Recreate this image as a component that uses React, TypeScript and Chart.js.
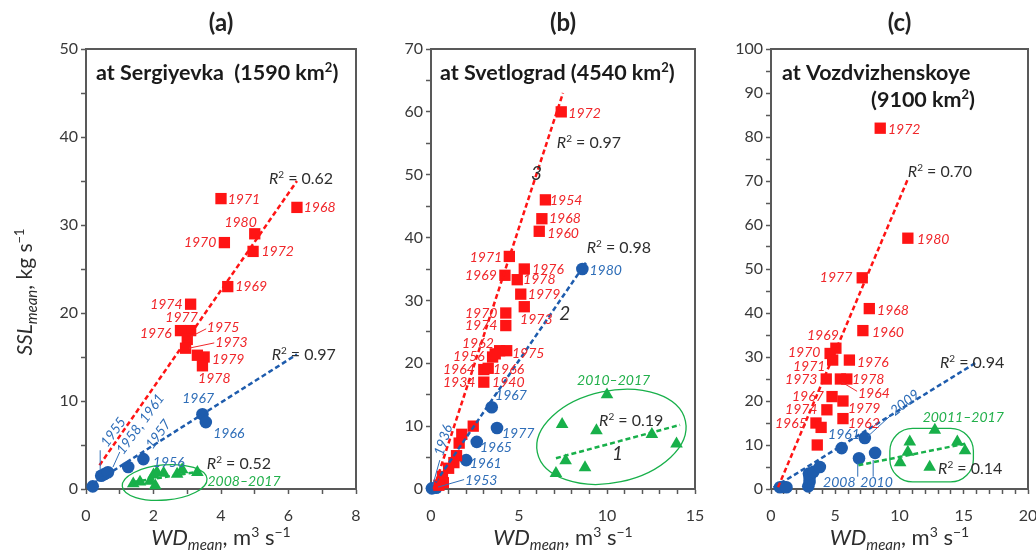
import React, { useEffect, useRef } from 'react';
import Chart from 'chart.js/auto';

const FONT = 'Lato, "Open Sans", sans-serif';
const RED = '#FF1414';
const RED_TXT = '#F0262A';
const BLUE = '#1E5CAD';
const BLUE_TXT = '#2F6EB8';
const GREEN = '#18B04A';
const GREEN_TXT = '#22B04B';
const INK = '#2E2E2E';
const AXIS = '#595959';

// ---------------- Panel (a): at Sergiyevka ----------------
const aRedX = [4.0, 6.25, 5.0, 4.1, 4.95, 4.2, 3.1, 3.1, 2.8, 3.0, 2.95, 3.5, 3.45, 3.3];
const aRedY = [33, 32, 29, 28, 27, 23, 21, 18, 18, 17, 16, 15, 14, 15.2];
const aRedLabels = ['1971', '1968', '1980', '1970', '1972', '1969', '1974', '1977', '1976', '1975', '1973', '1979', '1978'];
const aRedLabelAt: [number, number][] = [[4.2, 33], [6.45, 32], [4.1, 30.4], [2.9, 28.1], [5.2, 27], [4.42, 23.1], [1.9, 21], [2.35, 19.5], [1.6, 17.7], [3.58, 18.4], [3.83, 16.7], [3.73, 14.8], [3.32, 12.6]];
const aBlueX = [0.2, 0.45, 0.55, 0.65, 1.25, 1.7, 3.45, 3.55];
const aBlueY = [0.3, 1.5, 1.7, 1.9, 2.5, 3.4, 8.5, 7.6];
const aBlueLabels = ['1967', '1966', '1956'];
const aBlueLabelAt: [number, number][] = [[2.85, 10.3], [3.77, 6.4], [1.98, 3.1]];
const aBlueRotLabels = ['1955', '1958, 1961', '1957'];
const aBlueRotAt: [number, number][] = [[0.8, 6.5], [1.6, 7.4], [2.13, 6.25]];
const aGreenX = [1.4, 1.6, 1.9, 2.0, 2.1, 2.3, 2.7, 2.85, 3.3, 2.05];
const aGreenY = [0.6, 0.8, 0.9, 1.6, 1.9, 1.8, 1.7, 2.2, 1.9, 0.4];
const aRedTrendX = [0.4, 6.25];
const aRedTrendY = [2.7, 35];
const aBlueTrendX = [0.2, 6.25];
const aBlueTrendY = [0.6, 15.3];
const aGreenTrendX = [1.4, 3.4];
const aGreenTrendY = [0.8, 2.0];

// ---------------- Panel (b): at Svetlograd ----------------
const bRedX = [7.4, 6.5, 6.3, 6.15, 4.45, 4.2, 5.3, 4.9, 5.1, 5.3, 4.25, 4.25, 3.9, 4.3, 3.5, 3.65, 3.0, 3.0, 3.25, 2.4, 1.75, 1.6, 1.45, 1.3, 1.0, 0.65, 0.7, 0.45];
const bRedY = [60, 46, 43, 41, 37, 34, 35, 33.3, 31, 29, 28, 26, 22, 22, 21, 21.5, 19, 17, 19.2, 10, 8.7, 7.3, 5.3, 4.2, 3.3, 2.0, 1.0, 0.6];
const bRedLabels = ['1972', '1954', '1968', '1960', '1971', '1969', '1976', '1978', '1979', '1973', '1970', '1974', '1962', '1975', '1956', '1966', '1964', '1934', '1940'];
const bRedLabelAt: [number, number][] = [[7.8, 59.8], [6.76, 46], [6.7, 43.1], [6.6, 40.7], [2.2, 36.9], [1.93, 34], [5.74, 35], [5.23, 33.4], [5.5, 31], [5.06, 27], [1.93, 28], [1.93, 26.1], [1.76, 23.2], [4.6, 21.6], [1.25, 21.2], [3.52, 19.1], [0.68, 19.1], [0.68, 17.0], [3.47, 17.0]];
const bBlueX = [0.05, 0.3, 2.0, 2.6, 3.45, 3.75, 8.6];
const bBlueY = [0.1, 0.2, 4.6, 7.5, 13, 9.7, 35];
const bBlueLabels = ['1953', '1961', '1965', '1967', '1977', '1980'];
const bBlueLabelAt: [number, number][] = [[1.93, 1.4], [2.2, 4.1], [2.78, 6.7], [3.64, 15], [4.03, 8.9], [9.0, 34.9]];
const bBlueRotLabels = ['1936'];
const bBlueRotAt: [number, number][] = [[0.68, 7.8]];
const bGreenX = [10.0, 7.45, 9.4, 12.55, 13.95, 7.65, 8.75, 7.1];
const bGreenY = [15.0, 10.3, 9.3, 8.7, 7.2, 4.5, 3.4, 2.5];
const bRedTrendX = [0.15, 7.5];
const bRedTrendY = [0, 63];
const bBlueTrendX = [0, 8.8];
const bBlueTrendY = [0, 36];
const bGreenTrendX = [7.1, 14.15];
const bGreenTrendY = [4.9, 10.2];

// ---------------- Panel (c): at Vozdvizhenskoye ----------------
const cRedX = [8.5, 10.65, 7.1, 7.65, 7.15, 6.1, 5.05, 4.6, 4.8, 4.3, 5.9, 5.4, 4.75, 5.6, 4.35, 5.6, 3.5, 3.9, 3.6];
const cRedY = [82, 57, 48, 41, 36, 29.3, 32, 30.8, 29.3, 25, 25, 25, 21, 20, 18, 16, 15, 14, 10];
const cRedLabels = ['1972', '1980', '1977', '1968', '1960', '1976', '1969', '1970', '1971', '1973', '1978', '1964', '1967', '1979', '1974', '1962', '1965'];
const cRedLabelAt: [number, number][] = [[9.1, 81.9], [11.36, 56.9], [3.8, 48.1], [8.25, 40.8], [7.86, 35.8], [6.69, 28.8], [2.8, 35.1], [1.32, 31.1], [1.71, 27.9], [1.09, 24.9], [6.3, 24.9], [6.77, 21.8], [1.63, 21.1], [5.99, 18.4], [1.09, 18.1], [5.99, 15.0], [0.31, 15.0]];
const cBlueX = [0.7, 0.95, 1.2, 2.9, 3.0, 3.0, 2.95, 3.3, 3.8, 5.5, 6.85, 7.3, 8.1];
const cBlueY = [0.4, 0.5, 0.4, 0.6, 1.6, 2.5, 3.5, 3.9, 5.0, 9.3, 7.0, 11.6, 8.2];
const cBlueLabels = ['1961', '2008', '2010'];
const cBlueLabelAt: [number, number][] = [[4.44, 12.5], [4.05, 1.6], [6.95, 1.6]];
const cBlueRotLabels = ['2009'];
const cBlueRotAt: [number, number][] = [[10.4, 19.7]];
const cGreenX = [12.75, 10.8, 10.65, 10.05, 14.5, 15.1, 12.35];
const cGreenY = [13.4, 10.7, 8.4, 6.0, 10.7, 8.7, 5.0];
const cRedTrendX = [0.55, 10.66];
const cRedTrendY = [0.4, 70.5];
const cBlueTrendX = [0.2, 16];
const cBlueTrendY = [0.3, 28.8];
const cGreenTrendX = [6.8, 15.3];
const cGreenTrendY = [5.4, 10.4];

// ---------------- drawing helpers ----------------
type Seg = { t: string; i?: boolean; b?: boolean; s?: 'sub' | 'sup' };
type Note = { x: number; y: number; segs: Seg[]; color: string; size: number; align?: 'left' | 'center' | 'right'; rot?: number };
type Leader = { x1: number; y1: number; x2: number; y2: number; color: string };
type Loop = { cx: number; cy: number; rx: number; ry: number; rot: number; round?: boolean };

function segFont(seg: Seg, size: number) {
  const sz = seg.s === 'sub' ? Math.round(size * 0.7) : seg.s === 'sup' ? Math.round(size * 0.62) : size;
  return `${seg.i ? 'italic ' : ''}${seg.b ? 'bold ' : ''}${sz}px ${FONT}`;
}

function drawRich(ctx: CanvasRenderingContext2D, segs: Seg[], x: number, y: number, size: number, color: string, align: 'left' | 'center' | 'right' = 'left', rot = 0) {
  ctx.save();
  ctx.translate(x, y);
  if (rot) ctx.rotate((rot * Math.PI) / 180);
  ctx.fillStyle = color;
  ctx.textBaseline = 'alphabetic';
  ctx.textAlign = 'left';
  const widths = segs.map((s) => {
    ctx.font = segFont(s, size);
    return ctx.measureText(s.t).width;
  });
  const total = widths.reduce((a, b) => a + b, 0);
  let cx = align === 'left' ? 0 : align === 'center' ? -total / 2 : -total;
  const base = size * 0.36;
  segs.forEach((s, k) => {
    ctx.font = segFont(s, size);
    const dy = s.s === 'sub' ? size * 0.24 : s.s === 'sup' ? -size * 0.36 : 0;
    ctx.fillText(s.t, cx, base + dy);
    cx += widths[k];
  });
  ctx.restore();
}

const r2 = (v: string): Seg[] => [{ t: 'R', i: true }, { t: '2', s: 'sup' }, { t: ' = ' + v }];
const yearNotes = (labels: string[], at: [number, number][], color: string): Note[] =>
  labels.map((t, k) => ({ x: at[k][0], y: at[k][1], segs: [{ t, i: true }], color, size: 14 }));
const rotNotes = (labels: string[], at: [number, number][], color: string, rot: number): Note[] =>
  labels.map((t, k) => ({ x: at[k][0], y: at[k][1], segs: [{ t, i: true }], color, size: 14, align: 'center', rot }));

const pts = (xs: number[], ys: number[]) => xs.map((x, k) => ({ x, y: ys[k] }));

type PanelCfg = {
  key: string;
  canvasLeft: number;
  canvasWidth: number;
  plotLeft: number;
  plotRight: number;
  xMax: number;
  xEvery: number;
  yMax: number;
  letter: string;
  header: { segs: Seg[]; dx: number; y: number; align?: 'left' | 'right' }[];
  red: [number[], number[]];
  blue: [number[], number[]];
  green: [number[], number[]];
  redTrend: [number[], number[]];
  blueTrend: [number[], number[]];
  greenTrend: [number[], number[]];
  notes: Note[];
  leaders: Leader[];
  loops: Loop[];
  yTitle?: boolean;
};

const PLOT_TOP = 49;
const PLOT_BOTTOM = 489;
const H = 552;
const Y_AXIS_W = 40;
const X_AXIS_H = 34;

const km = (name: string, area: string): Seg[] => [{ t: `${name}(${area} km`, b: true }, { t: '2', b: true, s: 'sup' }, { t: ')', b: true }];

const panels: PanelCfg[] = [
  {
    key: 'a', canvasLeft: 0, canvasWidth: 372, plotLeft: 86, plotRight: 356, xMax: 8, xEvery: 2, yMax: 50, letter: '(a)',
    header: [{ segs: km('at Sergiyevka  ', '1590'), dx: 10, y: 72 }],
    red: [aRedX, aRedY], blue: [aBlueX, aBlueY], green: [aGreenX, aGreenY],
    redTrend: [aRedTrendX, aRedTrendY], blueTrend: [aBlueTrendX, aBlueTrendY], greenTrend: [aGreenTrendX, aGreenTrendY],
    notes: [
      ...yearNotes(aRedLabels, aRedLabelAt, RED_TXT),
      ...yearNotes(aBlueLabels, aBlueLabelAt, BLUE_TXT),
      ...rotNotes(aBlueRotLabels, aBlueRotAt, BLUE_TXT, -54),
      { x: 5.42, y: 35.3, segs: r2('0.62'), color: INK, size: 16 },
      { x: 5.5, y: 15.3, segs: r2('0.97'), color: INK, size: 16 },
      { x: 3.58, y: 2.95, segs: r2('0.52'), color: INK, size: 16 },
      { x: 3.6, y: 0.9, segs: [{ t: '2008–2017', i: true }], color: GREEN_TXT, size: 14 },
    ],
    leaders: [
      { x1: 3.56, y1: 18.2, x2: 3.1, y2: 17.3, color: RED_TXT },
      { x1: 3.8, y1: 16.6, x2: 3.05, y2: 16.0, color: RED_TXT },
      { x1: 0.42, y1: 4.4, x2: 0.42, y2: 2.2, color: BLUE_TXT },
      { x1: 1.0, y1: 4.2, x2: 0.8, y2: 2.5, color: BLUE_TXT },
    ],
    loops: [{ cx: 2.33, cy: 0.74, rx: 1.26, ry: 2.0, rot: -5 }],
    yTitle: true,
  },
  {
    key: 'b', canvasLeft: 372, canvasWidth: 340, plotLeft: 431, plotRight: 695, xMax: 15, xEvery: 5, yMax: 70, letter: '(b)',
    header: [{ segs: km('at Svetlograd ', '4540'), dx: 9, y: 72 }],
    red: [bRedX, bRedY], blue: [bBlueX, bBlueY], green: [bGreenX, bGreenY],
    redTrend: [bRedTrendX, bRedTrendY], blueTrend: [bBlueTrendX, bBlueTrendY], greenTrend: [bGreenTrendX, bGreenTrendY],
    notes: [
      ...yearNotes(bRedLabels, bRedLabelAt, RED_TXT),
      ...yearNotes(bBlueLabels, bBlueLabelAt, BLUE_TXT),
      ...rotNotes(bBlueRotLabels, bBlueRotAt, BLUE_TXT, -72),
      { x: 7.15, y: 55.2, segs: r2('0.97'), color: INK, size: 16 },
      { x: 8.85, y: 38.5, segs: r2('0.98'), color: INK, size: 16 },
      { x: 9.55, y: 11.0, segs: r2('0.19'), color: INK, size: 16 },
      { x: 8.3, y: 17.3, segs: [{ t: '2010–2017', i: true }], color: GREEN_TXT, size: 14 },
      { x: 6.0, y: 50.3, segs: [{ t: '3', i: true }], color: INK, size: 19, align: 'center' },
      { x: 7.6, y: 28, segs: [{ t: '2', i: true }], color: INK, size: 19, align: 'center' },
      { x: 10.6, y: 5.7, segs: [{ t: '1', i: true }], color: INK, size: 19, align: 'center' },
    ],
    leaders: [
      { x1: 0.5, y1: 4.6, x2: 0.1, y2: 0.6, color: BLUE_TXT },
      { x1: 1.88, y1: 1.5, x2: 0.4, y2: 0.3, color: BLUE_TXT },
    ],
    loops: [{ cx: 10.25, cy: 8.3, rx: 4.3, ry: 7.3, rot: -12 }],
  },
  {
    key: 'c', canvasLeft: 712, canvasWidth: 324, plotLeft: 771, plotRight: 1028, xMax: 20, xEvery: 5, yMax: 100, letter: '(c)',
    header: [
      { segs: [{ t: 'at Vozdvizhenskoye', b: true }], dx: 11, y: 72 },
      { segs: [{ t: '(9100 km', b: true }, { t: '2', b: true, s: 'sup' }, { t: ')', b: true }], dx: 204, y: 99, align: 'right' },
    ],
    red: [cRedX, cRedY], blue: [cBlueX, cBlueY], green: [cGreenX, cGreenY],
    redTrend: [cRedTrendX, cRedTrendY], blueTrend: [cBlueTrendX, cBlueTrendY], greenTrend: [cGreenTrendX, cGreenTrendY],
    notes: [
      ...yearNotes(cRedLabels, cRedLabelAt, RED_TXT),
      ...yearNotes(cBlueLabels, cBlueLabelAt, BLUE_TXT),
      ...rotNotes(cBlueRotLabels, cBlueRotAt, BLUE_TXT, -38),
      { x: 10.65, y: 72.3, segs: r2('0.70'), color: INK, size: 16 },
      { x: 13.15, y: 28.8, segs: r2('0.94'), color: INK, size: 16 },
      { x: 13.0, y: 4.8, segs: r2('0.14'), color: INK, size: 16 },
      { x: 11.8, y: 16.3, segs: [{ t: '20011–2017', i: true }], color: GREEN_TXT, size: 14 },
    ],
    leaders: [
      { x1: 6.7, y1: 22.2, x2: 5.5, y2: 24.3, color: RED_TXT },
      { x1: 9.5, y1: 17.2, x2: 7.55, y2: 12.0, color: BLUE_TXT },
      { x1: 6.75, y1: 6.0, x2: 6.75, y2: 2.8, color: BLUE_TXT },
      { x1: 7.95, y1: 6.6, x2: 7.95, y2: 2.8, color: BLUE_TXT },
    ],
    loops: [{ cx: 12.5, cy: 7.7, rx: 3.25, ry: 6.1, rot: 0, round: true }],
  },
];

const xTitleSegs: Seg[] = [{ t: 'WD', i: true }, { t: 'mean', i: true, s: 'sub' }, { t: ', m' }, { t: '3', s: 'sup' }, { t: ' s' }, { t: '−1', s: 'sup' }];
const yTitleSegs: Seg[] = [{ t: 'SSL', i: true }, { t: 'mean', i: true, s: 'sub' }, { t: ', kg s' }, { t: '−1', s: 'sup' }];

function build(canvas: HTMLCanvasElement, p: PanelCfg) {
  const tickFont = { family: FONT, size: 16 };
  const plugin = {
    id: 'panelDecor' + p.key,
    beforeDatasetsDraw(chart: any) {
      const { ctx, chartArea: a, scales } = chart;
      const xs = scales.x, ys = scales.y;
      ctx.save();
      ctx.strokeStyle = AXIS;
      ctx.lineWidth = 2;
      ctx.strokeRect(a.left, a.top, a.right - a.left, a.bottom - a.top);
      ctx.strokeStyle = GREEN;
      ctx.lineWidth = 1.3;
      p.loops.forEach((l) => {
        const cx = xs.getPixelForValue(l.cx);
        const cy = ys.getPixelForValue(l.cy);
        const rx = Math.abs(xs.getPixelForValue(l.cx + l.rx) - cx);
        const ry = Math.abs(ys.getPixelForValue(l.cy + l.ry) - cy);
        ctx.beginPath();
        if (l.round) {
          ctx.roundRect(cx - rx, cy - ry, 2 * rx, 2 * ry, Math.min(rx, ry) * 0.85);
        } else {
          ctx.ellipse(cx, cy, rx, ry, (l.rot * Math.PI) / 180, 0, Math.PI * 2);
        }
        ctx.stroke();
      });
      ctx.restore();
    },
    afterDatasetsDraw(chart: any) {
      const { ctx, chartArea: a, scales } = chart;
      const xs = scales.x, ys = scales.y;
      ctx.save();
      ctx.lineWidth = 1;
      p.leaders.forEach((l) => {
        ctx.strokeStyle = l.color;
        ctx.beginPath();
        ctx.moveTo(xs.getPixelForValue(l.x1), ys.getPixelForValue(l.y1));
        ctx.lineTo(xs.getPixelForValue(l.x2), ys.getPixelForValue(l.y2));
        ctx.stroke();
      });
      ctx.restore();
      p.notes.forEach((n) => {
        drawRich(ctx, n.segs, xs.getPixelForValue(n.x), ys.getPixelForValue(n.y), n.size, n.color, n.align || 'left', n.rot || 0);
      });
      p.header.forEach((h) => drawRich(ctx, h.segs, a.left + h.dx, h.y, 21.5, '#1A1A1A', h.align || 'left'));
      const mid = (a.left + a.right) / 2;
      drawRich(ctx, [{ t: p.letter, b: true }], mid, 22, 24, '#222222', 'center');
      drawRich(ctx, xTitleSegs, mid, 537, 22, INK, 'center');
      if (p.yTitle) drawRich(ctx, yTitleSegs, 24, 292, 21, INK, 'center', -90);
    },
  };

  const trend = (d: [number[], number[]], color: string) => ({
    data: pts(d[0], d[1]),
    showLine: true,
    borderColor: color,
    borderWidth: 2.5,
    borderDash: [5, 3],
    pointRadius: 0,
    fill: false,
    clip: false as any,
  });

  return new Chart(canvas, {
    type: 'scatter',
    data: {
      datasets: [
        trend(p.redTrend, RED),
        trend(p.blueTrend, BLUE),
        trend(p.greenTrend, GREEN),
        { data: pts(p.red[0], p.red[1]), pointStyle: 'rect', pointRadius: 8, backgroundColor: RED, borderColor: RED, borderWidth: 0, clip: false as any },
        { data: pts(p.blue[0], p.blue[1]), pointStyle: 'circle', pointRadius: 6.3, backgroundColor: BLUE, borderColor: BLUE, borderWidth: 0, clip: false as any },
        { data: pts(p.green[0], p.green[1]), pointStyle: 'triangle', pointRadius: 7.3, backgroundColor: GREEN, borderColor: GREEN, borderWidth: 0, clip: false as any },
      ] as any,
    },
    options: {
      animation: false,
      responsive: false,
      maintainAspectRatio: false,
      events: [],
      layout: {
        padding: {
          left: p.plotLeft - p.canvasLeft - Y_AXIS_W,
          right: p.canvasLeft + p.canvasWidth - p.plotRight,
          top: PLOT_TOP,
          bottom: H - PLOT_BOTTOM - X_AXIS_H,
        },
      },
      plugins: { legend: { display: false }, tooltip: { enabled: false }, title: { display: false } },
      scales: {
        x: {
          type: 'linear',
          min: 0,
          max: p.xMax,
          ticks: {
            stepSize: 1,
            autoSkip: false,
            maxRotation: 0,
            padding: 12,
            color: '#383838',
            font: tickFont,
            callback: (v: any) => (Number(v) % p.xEvery === 0 ? String(v) : ''),
          },
          grid: { display: true, drawOnChartArea: false, drawTicks: true, tickLength: 5, tickColor: AXIS, tickWidth: 1.5 },
          border: { display: true, color: AXIS, width: 2 },
          afterFit: (s: any) => {
            s.height = X_AXIS_H;
            s.paddingLeft = 0;
            s.paddingRight = 0;
          },
        },
        y: {
          type: 'linear',
          min: 0,
          max: p.yMax,
          ticks: {
            stepSize: 5,
            autoSkip: false,
            padding: 3,
            color: '#383838',
            font: tickFont,
            callback: (v: any) => (Number(v) % 10 === 0 ? String(v) : ''),
          },
          grid: { display: true, drawOnChartArea: false, drawTicks: true, tickLength: 5, tickColor: AXIS, tickWidth: 1.5 },
          border: { display: true, color: AXIS, width: 2 },
          afterFit: (s: any) => {
            s.width = Y_AXIS_W;
            s.paddingTop = 0;
            s.paddingBottom = 0;
          },
        },
      },
    } as any,
    plugins: [plugin],
  });
}

function Panel({ cfg }: { cfg: PanelCfg }) {
  const ref = useRef<HTMLCanvasElement>(null);
  useEffect(() => {
    const chart = build(ref.current!, cfg);
    return () => chart.destroy();
  }, [cfg]);
  return (
    <canvas
      ref={ref}
      width={cfg.canvasWidth}
      height={H}
      style={{ position: 'absolute', left: cfg.canvasLeft, top: 0, width: cfg.canvasWidth, height: H }}
    />
  );
}

export default function App() {
  return (
    <div style={{ position: 'fixed', left: 0, top: 0, width: 1036, height: H, background: '#ffffff', overflow: 'hidden' }}>
      {panels.map((p) => (
        <Panel key={p.key} cfg={p} />
      ))}
    </div>
  );
}
